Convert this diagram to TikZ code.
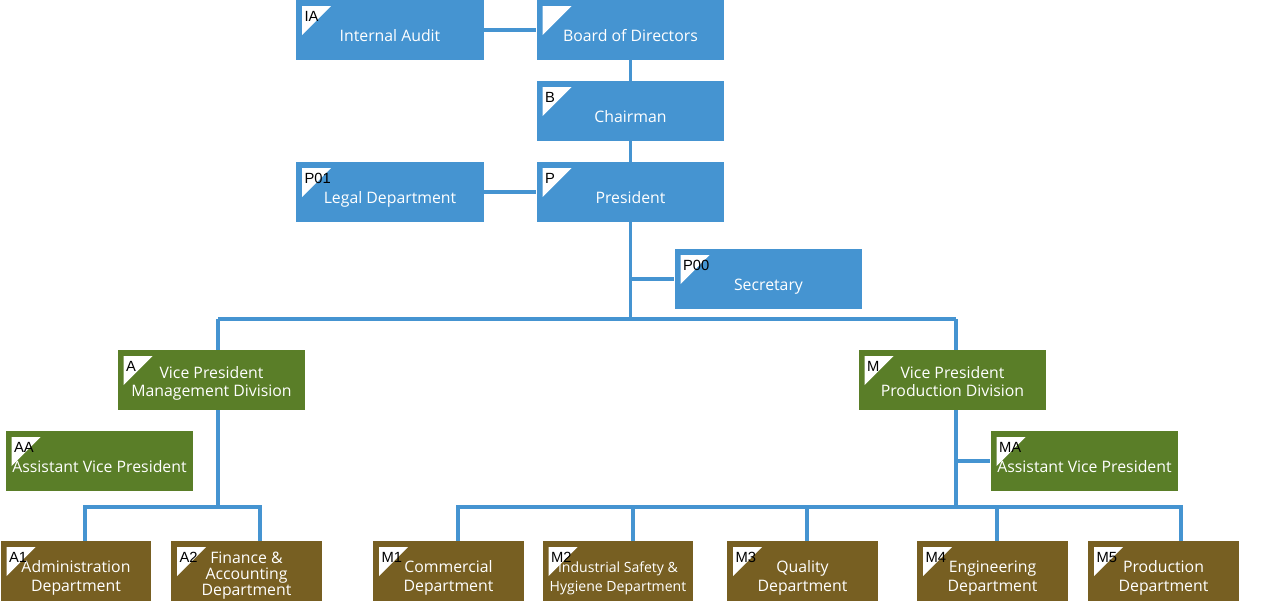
\documentclass[tikz,border=0pt]{standalone}
\usepackage{fontspec}
\setmainfont{Open Sans}
\newfontfamily\tagfont{Liberation Sans}
\usepackage{tikz}
\usetikzlibrary{calc}

\definecolor{unitblue}{HTML}{4594D1}
\definecolor{unitgreen}{HTML}{5A7E28}
\definecolor{unitbrown}{HTML}{775F22}

\tikzset{
  unit/.style={rectangle, inner sep=0pt, text=white, align=center,
    font=\fontsize{9}{10.3}\selectfont, minimum width=3.76cm, minimum height=1.2cm,
    text depth=0pt, text height=0.44cm,
    path picture={
      \fill[white] ($(path picture bounding box.north west)+(0.12cm,-0.12cm)$)
        -- ++(0.58cm,0) -- ++(-0.58cm,-0.58cm) -- cycle;},
    label={[anchor=north west, inner sep=0pt, text=black, xshift=0.17cm, yshift=-0.23cm,
      font=\tagfont\fontsize{8.4}{9}\selectfont]north west:#1}},
  upper/.style={unit=#1, fill=unitblue},
  vp/.style={unit=#1, fill=unitgreen},
  twolines/.style={text height=0.66cm},
  dept/.style={unit=#1, fill=unitbrown, minimum width=3.02cm, text height=0.8cm},
  link/.style={draw=unitblue, line width=1.8pt}
}

\begin{document}
\begin{tikzpicture}[x=0.02cm, y=-0.02cm]
\useasboundingbox (0,0) rectangle (1272,602);
% top management
\node[upper=IA] (ia) at (390,30) {Internal Audit};
\node[upper={}] (board) at (630.5,30) {Board of Directors};
\node[upper=B] (chair) at (630.5,111) {Chairman};
\node[upper=P01] (legal) at (390,192) {Legal Department};
\node[upper=P] (pres) at (630.5,192) {President};
\node[upper=P00] (sec) at (768.5,279) {Secretary};
% divisions
\node[vp=A, twolines] (vpa) at (211.5,380) {Vice President\\Management Division};
\node[vp=M, twolines] (vpm) at (952.5,380) {Vice President\\Production Division};
\node[vp=AA] (aa) at (99.5,461) {Assistant Vice President};
\node[vp=MA] (ma) at (1084.5,461) {Assistant Vice President};
% departments
\node[dept=A1] (a1) at (76,571) {Administration\\Department};
\node[dept=A2, font=\fontsize{9}{9.1}\selectfont, text height=0.96cm] (a2) at (246.5,571) {Finance \&\\Accounting\\Department};
\node[dept=M1] (m1) at (448.5,571) {Commercial\\Department};
\node[dept=M2, font=\fontsize{8}{10.3}\selectfont] (m2) at (618,571) {Industrial Safety \&\\Hygiene Department};
\node[dept=M3] (m3) at (802.5,571) {Quality\\Department};
\node[dept=M4] (m4) at (992.5,571) {Engineering\\Department};
\node[dept=M5] (m5) at (1163.5,571) {Production\\Department};
% junctions
\coordinate (ja) at (218,319);
\coordinate (jm) at (956,319);
\coordinate (ba1) at (85,507);
\coordinate (ba2) at (260,507);
\foreach \n/\x in {1/458,2/633,3/807,4/997,5/1181}{\coordinate (bm\n) at (\x,507);}
% connectors
\draw[link] (ia) -- (board);
\draw[link] (board) -- (chair);
\draw[link] (chair) -- (pres);
\draw[link] (legal) -- (pres);
\draw[link] (pres.south) -- (pres.south |- ja);
\draw[link] (pres.south |- sec.west) -- (sec.west);
\draw[link] (ja) -- (jm);
\draw[link] (ja) -- (ja |- vpa.north);
\draw[link] (jm) -- (jm |- vpm.north);
\draw[link] (ja |- vpa.south) -- (ja |- ba1);
\draw[link] (ba1 |- a1.north) -- (ba1) -- (ba2) -- (ba2 |- a2.north);
\draw[link] (jm |- vpm.south) -- (jm |- bm1);
\draw[link] (jm |- ma.west) -- (ma.west);
\draw[link] (bm1 |- m1.north) -- (bm1) -- (bm5) -- (bm5 |- m5.north);
\foreach \n in {2,3,4}{\draw[link] (bm\n) -- (bm\n |- m\n.north);}
\end{tikzpicture}
\end{document}
